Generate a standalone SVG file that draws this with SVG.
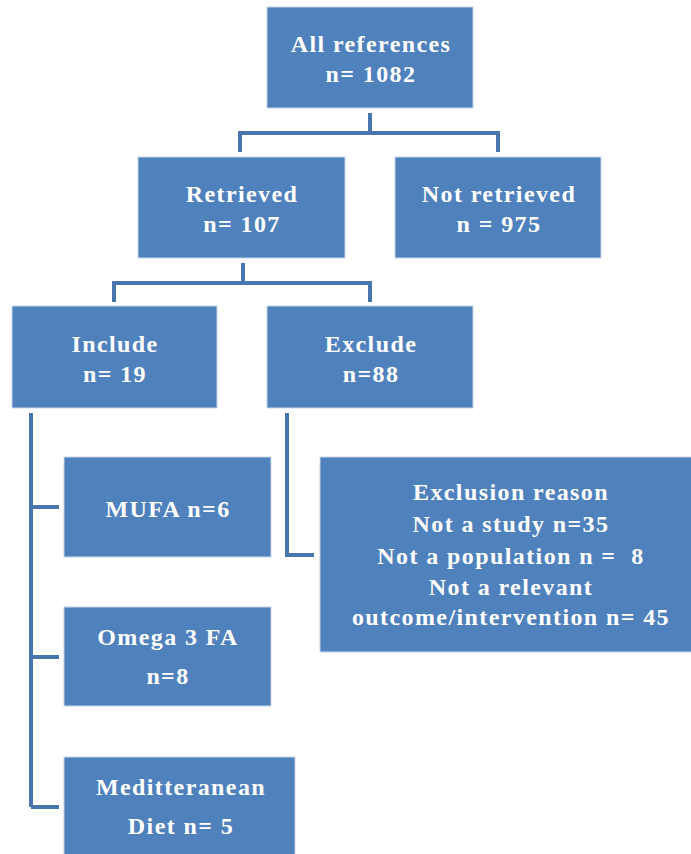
<svg xmlns="http://www.w3.org/2000/svg" width="691" height="854" viewBox="0 0 691 854">
<style>
.box{fill:#4F81BD;stroke:#C9D6E8;stroke-width:1}
.t{font-family:"Liberation Serif","DejaVu Serif",serif;font-weight:bold;font-size:24px;letter-spacing:1.4px;fill:#FFFFFF;text-anchor:middle}
.c{fill:none;stroke:#4A76AE;stroke-width:4}
</style>
<rect width="691" height="854" fill="#FFFFFF"/>
<g id="connectors">
<path class="c" d="M370,113 V133 M240,152 V133 H498 V152"/>
<path class="c" d="M243,263 V283 M114,302 V283 H370 V302"/>
<path class="c" d="M31,413 V807 M31,507 H59 M31,657 H59 M31,807 H59"/>
<path class="c" d="M287,413 V555 H314"/>
</g>
<g id="all"><rect class="box" x="267" y="7" width="206" height="101"/><text class="t" x="371" y="52">All references</text><text class="t" x="371" y="82">n= 1082</text></g>
<g id="retrieved"><rect class="box" x="138" y="157" width="207" height="101"/><text class="t" x="242" y="202">Retrieved</text><text class="t" x="242" y="232">n= 107</text></g>
<g id="notretrieved"><rect class="box" x="395" y="157" width="206" height="101"/><text class="t" x="499" y="202">Not retrieved</text><text class="t" x="499" y="232">n = 975</text></g>
<g id="include"><rect class="box" x="12" y="306" width="205" height="102"/><text class="t" x="115" y="352">Include</text><text class="t" x="115" y="382">n= 19</text></g>
<g id="exclude"><rect class="box" x="267" y="306" width="206" height="102"/><text class="t" x="371" y="352">Exclude</text><text class="t" x="371" y="382">n=88</text></g>
<g id="mufa"><rect class="box" x="64" y="457" width="207" height="100"/><text class="t" x="168" y="517">MUFA n=6</text></g>
<g id="omega"><rect class="box" x="64" y="607" width="207" height="99"/><text class="t" x="168" y="645">Omega 3 FA</text><text class="t" x="168" y="684">n=8</text></g>
<g id="med"><rect class="box" x="64" y="757" width="231" height="100"/><text class="t" x="181" y="795">Meditteranean</text><text class="t" x="181" y="834">Diet n= 5</text></g>
<g id="reasons"><rect class="box" x="320" y="457" width="380" height="195"/>
<text class="t" x="511" y="500">Exclusion reason</text>
<text class="t" x="511" y="532">Not a study n=35</text>
<text class="t" x="511" y="564" xml:space="preserve">Not a population n =  8</text>
<text class="t" x="511" y="595">Not a relevant</text>
<text class="t" x="511" y="625">outcome/intervention n= 45</text></g>
</svg>
